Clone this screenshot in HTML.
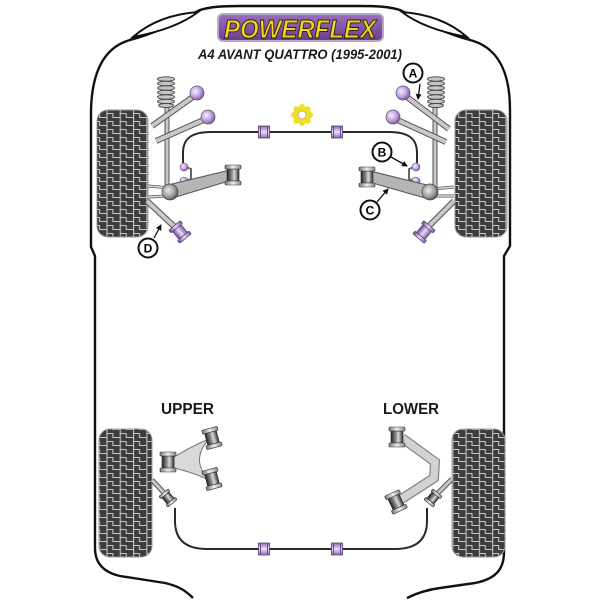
<!DOCTYPE html>
<html><head><meta charset="utf-8"><style>
html,body{margin:0;padding:0;background:#fff;}
svg{display:block;}
</style></head><body>
<svg width="600" height="600" viewBox="0 0 600 600" xmlns="http://www.w3.org/2000/svg">
<defs>
  <pattern id="tread" patternUnits="userSpaceOnUse" width="13.3" height="8">
    <rect width="13.3" height="8" fill="#3d3d3d"/>
    <path d="M0.6,0 V8 M0.6,1.5 H6.5 V5.5 H13.3" fill="none" stroke="#c4c4c4" stroke-width="1.1"/>
  </pattern>
  <linearGradient id="cylG" x1="0" y1="0" x2="1" y2="0">
    <stop offset="0" stop-color="#222"/><stop offset="0.45" stop-color="#999"/>
    <stop offset="0.6" stop-color="#dcdcdc"/><stop offset="1" stop-color="#333"/>
  </linearGradient>
  <linearGradient id="flG" x1="0" y1="0" x2="1" y2="0">
    <stop offset="0" stop-color="#777"/><stop offset="0.5" stop-color="#eee"/><stop offset="1" stop-color="#888"/>
  </linearGradient>
  <linearGradient id="purG" x1="0" y1="0" x2="1" y2="0">
    <stop offset="0" stop-color="#6a4a8c"/><stop offset="0.5" stop-color="#e7dbf5"/><stop offset="1" stop-color="#7a5a9c"/>
  </linearGradient>
  <linearGradient id="purV" x1="0" y1="0" x2="0" y2="1">
    <stop offset="0" stop-color="#8a6aac"/><stop offset="0.5" stop-color="#eadff7"/><stop offset="1" stop-color="#8a6aac"/>
  </linearGradient>
  <radialGradient id="ballP" cx="0.38" cy="0.38" r="0.65">
    <stop offset="0" stop-color="#f6f0fc"/><stop offset="0.55" stop-color="#c2a8df"/><stop offset="1" stop-color="#7a5a9c"/>
  </radialGradient>
  <radialGradient id="ballG" cx="0.4" cy="0.4" r="0.65">
    <stop offset="0" stop-color="#eaeaea"/><stop offset="0.6" stop-color="#a0a0a0"/><stop offset="1" stop-color="#4a4a4a"/>
  </radialGradient>
  <linearGradient id="logoBg" x1="0" y1="0" x2="0" y2="1">
    <stop offset="0" stop-color="#9b6fbf"/><stop offset="1" stop-color="#6a3d8d"/>
  </linearGradient>
  <marker id="arr" markerWidth="6" markerHeight="6" refX="5" refY="3" orient="auto" markerUnits="userSpaceOnUse">
    <path d="M0,0 L6,3 L0,6 Z" fill="#111"/>
  </marker>
  <g id="spool">
    <rect x="-6" y="-6" width="12" height="12" fill="url(#cylG)" stroke="#222" stroke-width="0.6"/>
    <rect x="-8" y="-10" width="16" height="4" rx="1" fill="url(#flG)" stroke="#333" stroke-width="0.6"/>
    <rect x="-8" y="6" width="16" height="4" rx="1" fill="url(#flG)" stroke="#333" stroke-width="0.6"/>
  </g>
  <g id="spoolS">
    <rect x="-4.5" y="-4" width="9" height="8" fill="url(#cylG)" stroke="#222" stroke-width="0.6"/>
    <rect x="-6" y="-7" width="12" height="3" rx="1" fill="url(#flG)" stroke="#333" stroke-width="0.6"/>
    <rect x="-6" y="4" width="12" height="3" rx="1" fill="url(#flG)" stroke="#333" stroke-width="0.6"/>
  </g>
  <g id="pspool">
    <rect x="-5.5" y="-5" width="11" height="10" fill="url(#purG)" stroke="#5a3a7a" stroke-width="0.7"/>
    <rect x="-7.5" y="-8.5" width="15" height="3.5" rx="1" fill="url(#purG)" stroke="#5a3a7a" stroke-width="0.7"/>
    <rect x="-7.5" y="5" width="15" height="3.5" rx="1" fill="url(#purG)" stroke="#5a3a7a" stroke-width="0.7"/>
  </g>
  <g id="pbar">
    <rect x="-5.5" y="-6" width="11" height="12" fill="url(#purV)" stroke="#5a3a7a" stroke-width="0.8"/>
    <line x1="-3.5" y1="-6" x2="-3.5" y2="6" stroke="#6a4a8c" stroke-width="1"/>
    <line x1="3.5" y1="-6" x2="3.5" y2="6" stroke="#6a4a8c" stroke-width="1"/>
  </g>
  <g id="spring" fill="#c6c6c6" stroke="#444" stroke-width="0.9">
    <ellipse cx="0" cy="0" rx="8.5" ry="2.2"/><ellipse cx="0" cy="4.5" rx="8.5" ry="2.2"/>
    <ellipse cx="0" cy="9" rx="8.5" ry="2.2"/><ellipse cx="0" cy="13.5" rx="8.5" ry="2.2"/>
    <ellipse cx="0" cy="18" rx="8.5" ry="2.2"/><ellipse cx="0" cy="22.5" rx="8.5" ry="2.2"/>
    <ellipse cx="0" cy="26.5" rx="7.5" ry="2"/>
  </g>
</defs>

<!-- Body outline -->
<path d="M193,598 C185,590 178,586 165,583 L120,576 C102,572 95,562 95,548 L95,256 L91,247 L91,110 C92,70 105,47 130,40 C160,32 180,20 200,10 C210,7 220,6 240,6 L360,6 C380,6 390,7 400,10 C420,20 440,32 470,40 C497,47 510,70 510,110 L510,246 L504,256 L504,552 C504,570 495,579 475,583 L440,588 C425,590 415,594 407,598"
 fill="none" stroke="#111" stroke-width="2.4" stroke-linejoin="round"/>
<!-- lenses -->
<path d="M133,37 Q158,15 198,12 Q176,29 133,37 Z" fill="#fff" stroke="#111" stroke-width="2"/>
<path d="M467,37 Q442,15 402,12 Q424,29 467,37 Z" fill="#fff" stroke="#111" stroke-width="2"/>

<!-- Logo -->
<rect x="218" y="14" width="165" height="27" rx="5" fill="url(#logoBg)" stroke="#b9a6c9" stroke-width="2"/>
<text x="300" y="38" text-anchor="middle" font-family="Liberation Sans, sans-serif" font-weight="bold" font-style="italic" font-size="26" fill="#f3d81a" stroke="#2a1a08" stroke-width="0.9" textLength="152" lengthAdjust="spacingAndGlyphs">POWERFLEX</text>
<text x="300" y="59" text-anchor="middle" font-family="Liberation Sans, sans-serif" font-weight="bold" font-style="italic" font-size="14" fill="#1a1a1a" textLength="204" lengthAdjust="spacingAndGlyphs">A4 AVANT QUATTRO (1995-2001)</text>

<!-- Tires -->
<rect x="97" y="110" width="51" height="127" rx="11" fill="url(#tread)" stroke="#999" stroke-width="1"/>
<rect x="455" y="110" width="52" height="127" rx="11" fill="url(#tread)" stroke="#999" stroke-width="1"/>
<rect x="99" y="429" width="53" height="128" rx="11" fill="url(#tread)" stroke="#999" stroke-width="1"/>
<rect x="452" y="429" width="53" height="128" rx="11" fill="url(#tread)" stroke="#999" stroke-width="1"/>

<!-- Front anti-roll bar -->
<path d="M183,163 L183,153 C183,139 191,132 211,132 L389,132 C409,132 417,139 417,153 L417,163" fill="none" stroke="#2a2a2a" stroke-width="2"/>
<use href="#pbar" x="264" y="132"/>
<use href="#pbar" x="337" y="132"/>

<!-- Yellow mount -->
<g transform="translate(302,115)">
  <circle r="8" fill="#f1df22" stroke="#9a9a50" stroke-width="0.8"/>
  <circle cx="0" cy="-8" r="3" fill="#f1df22"/><circle cx="0" cy="8" r="3" fill="#f1df22"/>
  <circle cx="-8" cy="0" r="3" fill="#f1df22"/><circle cx="8" cy="0" r="3" fill="#f1df22"/>
  <circle cx="5.7" cy="5.7" r="3" fill="#f1df22"/><circle cx="-5.7" cy="5.7" r="3" fill="#f1df22"/>
  <circle cx="5.7" cy="-5.7" r="3" fill="#f1df22"/><circle cx="-5.7" cy="-5.7" r="3" fill="#f1df22"/>
  <circle r="4" fill="#fff" stroke="#aaa" stroke-width="0.8"/>
</g>

<!-- ===== FRONT LEFT ===== -->
<line x1="167" y1="100" x2="167" y2="190" stroke="#555" stroke-width="5"/>
<line x1="167" y1="100" x2="167" y2="190" stroke="#c8c8c8" stroke-width="3"/>
<use href="#spring" x="166" y="79"/>
<g stroke-linecap="butt">
  <line x1="152" y1="126" x2="197" y2="94" stroke="#555" stroke-width="6"/>
  <line x1="152" y1="126" x2="197" y2="94" stroke="#c8c8c8" stroke-width="4"/>
  <line x1="156" y1="141" x2="208" y2="118" stroke="#555" stroke-width="6"/>
  <line x1="156" y1="141" x2="208" y2="118" stroke="#c8c8c8" stroke-width="4"/>
</g>
<circle cx="197" cy="93" r="7" fill="url(#ballP)" stroke="#6a4a8a" stroke-width="0.7"/>
<circle cx="208" cy="117" r="7" fill="url(#ballP)" stroke="#6a4a8a" stroke-width="0.7"/>
<path d="M186,167 L191,169 L191,179 L186,181" fill="none" stroke="#666" stroke-width="2"/>
<circle cx="184" cy="167" r="4" fill="url(#ballP)" stroke="#6a4a8a" stroke-width="0.6"/>
<circle cx="184" cy="181" r="4" fill="url(#ballP)" stroke="#6a4a8a" stroke-width="0.6"/>
<line x1="148" y1="186" x2="170" y2="188" stroke="#555" stroke-width="3"/>
<line x1="148" y1="186" x2="170" y2="188" stroke="#ddd" stroke-width="1.5"/>
<line x1="148" y1="197" x2="166" y2="196" stroke="#555" stroke-width="3"/>
<line x1="148" y1="197" x2="166" y2="196" stroke="#ddd" stroke-width="1.5"/>
<path d="M172,184 L230,170 L232,180 L176,197 Z" fill="#b5b5b5" stroke="#555" stroke-width="1"/>
<circle cx="170" cy="192" r="8" fill="url(#ballG)" stroke="#444" stroke-width="0.7"/>
<use href="#spool" x="233" y="175"/>
<line x1="147" y1="201" x2="178" y2="230" stroke="#555" stroke-width="6"/>
<line x1="147" y1="201" x2="178" y2="230" stroke="#c8c8c8" stroke-width="4"/>
<use href="#pspool" transform="translate(180,232) rotate(-40)"/>

<!-- ===== FRONT RIGHT ===== -->
<line x1="435" y1="100" x2="435" y2="190" stroke="#555" stroke-width="5"/>
<line x1="435" y1="100" x2="435" y2="190" stroke="#c8c8c8" stroke-width="3"/>
<use href="#spring" x="436" y="79"/>
<g stroke-linecap="butt">
  <line x1="449" y1="129" x2="403" y2="94" stroke="#555" stroke-width="6"/>
  <line x1="449" y1="129" x2="403" y2="94" stroke="#c8c8c8" stroke-width="4"/>
  <line x1="446" y1="142" x2="393" y2="118" stroke="#555" stroke-width="6"/>
  <line x1="446" y1="142" x2="393" y2="118" stroke="#c8c8c8" stroke-width="4"/>
</g>
<circle cx="403" cy="93" r="7" fill="url(#ballP)" stroke="#6a4a8a" stroke-width="0.7"/>
<circle cx="393" cy="117" r="7" fill="url(#ballP)" stroke="#6a4a8a" stroke-width="0.7"/>
<path d="M414,167 L409,169 L409,179 L414,181" fill="none" stroke="#666" stroke-width="2"/>
<circle cx="416" cy="167" r="4" fill="url(#ballP)" stroke="#6a4a8a" stroke-width="0.6"/>
<circle cx="416" cy="181" r="4" fill="url(#ballP)" stroke="#6a4a8a" stroke-width="0.6"/>
<line x1="454" y1="187" x2="432" y2="189" stroke="#555" stroke-width="3"/>
<line x1="454" y1="187" x2="432" y2="189" stroke="#ddd" stroke-width="1.5"/>
<line x1="454" y1="196" x2="436" y2="196" stroke="#555" stroke-width="3"/>
<line x1="454" y1="196" x2="436" y2="196" stroke="#ddd" stroke-width="1.5"/>
<path d="M370,171 L427,185 L425,198 L369,182 Z" fill="#b5b5b5" stroke="#555" stroke-width="1"/>
<circle cx="430" cy="192" r="8" fill="url(#ballG)" stroke="#444" stroke-width="0.7"/>
<use href="#spool" x="367" y="177"/>
<line x1="454" y1="201" x2="426" y2="229" stroke="#555" stroke-width="6"/>
<line x1="454" y1="201" x2="426" y2="229" stroke="#c8c8c8" stroke-width="4"/>
<use href="#pspool" transform="translate(424,232) rotate(40)"/>

<!-- Labels front -->
<g font-family="Liberation Sans, sans-serif" font-weight="bold" font-size="12" text-anchor="middle">
  <circle cx="413" cy="73" r="9.5" fill="#fff" stroke="#111" stroke-width="2"/>
  <text x="413" y="77.5">A</text>
  <circle cx="382" cy="152" r="9.5" fill="#fff" stroke="#111" stroke-width="2"/>
  <text x="382" y="156.5">B</text>
  <circle cx="370" cy="210" r="9.5" fill="#fff" stroke="#111" stroke-width="2"/>
  <text x="370" y="214.5">C</text>
  <circle cx="148" cy="248" r="9.5" fill="#fff" stroke="#111" stroke-width="2"/>
  <text x="148" y="252.5">D</text>
</g>
<g stroke="#111" stroke-width="1.3" fill="none" marker-end="url(#arr)">
  <line x1="420" y1="84" x2="418" y2="99"/>
  <line x1="391" y1="157" x2="407" y2="166"/>
  <line x1="377" y1="202" x2="388" y2="189"/>
  <line x1="154" y1="238" x2="161" y2="225"/>
</g>

<!-- ===== REAR ===== -->
<text x="161" y="414" font-family="Liberation Sans, sans-serif" font-weight="bold" font-size="15.5" fill="#1a1a1a" textLength="53" lengthAdjust="spacingAndGlyphs">UPPER</text>
<text x="383" y="414" font-family="Liberation Sans, sans-serif" font-weight="bold" font-size="15.5" fill="#1a1a1a" textLength="56" lengthAdjust="spacingAndGlyphs">LOWER</text>

<path d="M175,508 L175,521 C175,539 185,549 207,549 L395,549 C417,549 427,539 427,521 L427,508" fill="none" stroke="#2a2a2a" stroke-width="2"/>
<use href="#pbar" x="264" y="549"/>
<use href="#pbar" x="337" y="549"/>

<path d="M174,457 Q192,446 209,439 Q190,460 209,480 Q192,472 174,468 Z" fill="#d9d9d9" stroke="#777" stroke-width="1"/>
<use href="#spool" x="168" y="462"/>
<use href="#spool" transform="translate(212,438) rotate(-15)"/>
<use href="#spool" transform="translate(212,479) rotate(-15)"/>
<line x1="152" y1="480" x2="166" y2="495" stroke="#555" stroke-width="5"/>
<line x1="152" y1="480" x2="166" y2="495" stroke="#c8c8c8" stroke-width="3"/>
<use href="#spoolS" transform="translate(168,498) rotate(-40)"/>

<polyline points="402,438 435,462 434,478 400,500" fill="none" stroke="#888" stroke-width="10" stroke-linejoin="miter"/>
<polyline points="402,438 435,462 434,478 400,500" fill="none" stroke="#d2d2d2" stroke-width="7.5" stroke-linejoin="miter"/>
<use href="#spool" x="397" y="437"/>
<use href="#spool" transform="translate(396,502) rotate(-25)"/>
<line x1="452" y1="479" x2="436" y2="495" stroke="#555" stroke-width="5"/>
<line x1="452" y1="479" x2="436" y2="495" stroke="#c8c8c8" stroke-width="3"/>
<use href="#spoolS" transform="translate(433,498) rotate(40)"/>
</svg>
</body></html>
